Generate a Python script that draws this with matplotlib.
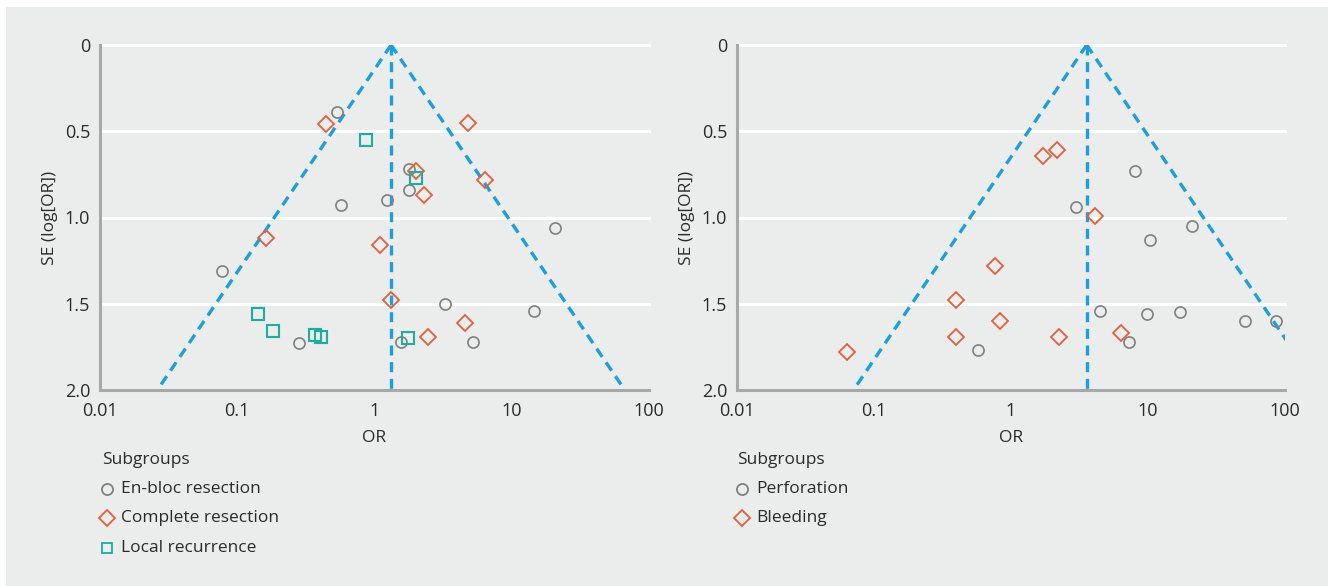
import numpy as np
import matplotlib
matplotlib.use('Agg')
import matplotlib.pyplot as plt
from matplotlib.lines import Line2D
from matplotlib.patches import Rectangle

# left panel: en-bloc / complete resection / local recurrence
enbloc_or = [0.53, 1.77, 1.77, 0.57, 1.24, 20.5, 0.078, 3.27, 14.6, 0.28, 1.56, 5.2]
enbloc_se = [0.39, 0.72, 0.84, 0.93, 0.90, 1.06, 1.31, 1.50, 1.54, 1.73, 1.72, 1.72]
complete_or = [0.44, 4.84, 2.0, 6.38, 2.29, 0.162, 1.09, 1.32, 4.6, 2.45]
complete_se = [0.46, 0.45, 0.73, 0.78, 0.87, 1.12, 1.16, 1.48, 1.61, 1.69]
recur_or = [0.865, 2.02, 0.142, 0.182, 0.366, 0.41, 1.74]
recur_se = [0.55, 0.77, 1.56, 1.66, 1.68, 1.69, 1.70]
pooled_left = 1.32

# right panel: perforation / bleeding
perf_or = [8.07, 2.96, 20.8, 10.4, 4.44, 9.9, 17.2, 51.2, 86.5, 7.3, 0.574]
perf_se = [0.73, 0.94, 1.05, 1.13, 1.54, 1.56, 1.55, 1.60, 1.60, 1.72, 1.77]
bleed_or = [2.17, 1.72, 4.1, 0.769, 0.396, 0.834, 0.399, 2.23, 6.4, 0.0638]
bleed_se = [0.61, 0.645, 0.99, 1.28, 1.48, 1.60, 1.695, 1.695, 1.67, 1.78]
pooled_right = 3.57

xticks = [0.01, 0.1, 1, 10, 100]
xticklabels = ['0.01', '0.1', '1', '10', '100']
yticks = [0, 0.5, 1.0, 1.5, 2.0]
yticklabels = ['0', '0.5', '1.0', '1.5', '2.0']

bg = '#ebecec'
grey = '#808080'
orange = '#e2603a'
teal = '#1aaf9f'
blue = '#1a9fe0'
spine = '#a8a8a8'
txt = '#2a2a2a'

plt.rcParams['font.family'] = ['Open Sans', 'DejaVu Sans']
plt.rcParams['font.size'] = 12

fig = plt.figure(figsize=(13.28, 5.86), dpi=100, facecolor='white')
fig.patches.append(Rectangle((6 / 1328, 0), 1 - 6 / 1328, 1 - 7 / 586,
                             transform=fig.transFigure, facecolor=bg,
                             edgecolor='none', zorder=-10))

ax1 = fig.add_axes([100 / 1328, 1 - 390 / 586, 549 / 1328, 345 / 586])
ax2 = fig.add_axes([737 / 1328, 1 - 390 / 586, 548 / 1328, 345 / 586])


def setup(ax, pooled):
    ax.set_facecolor(bg)
    ax.set_xscale('log')
    ax.set_xlim(0.01, 100)
    ax.set_ylim(2.0, 0)
    for y in [0, 0.5, 1.0, 1.5]:
        ax.axhline(y, color='white', lw=2.2, zorder=1, clip_on=False)
    se = np.array([0, 2.0])
    k = 1.96
    ax.plot(pooled * np.exp(-k * se), se, ls=(0, (3, 2)), color=blue, lw=2.4, zorder=2)
    ax.plot(pooled * np.exp(k * se), se, ls=(0, (3, 2)), color=blue, lw=2.4, zorder=2)
    ax.plot([pooled, pooled], [0, 2.0], ls=(0, (3, 2)), color=blue, lw=2.4, zorder=2)
    for s in ['top', 'right']:
        ax.spines[s].set_visible(False)
    for s in ['left', 'bottom']:
        ax.spines[s].set_color(spine)
        ax.spines[s].set_linewidth(2.2)
    ax.set_xticks(xticks)
    ax.set_xticklabels(xticklabels)
    ax.minorticks_off()
    ax.set_yticks(yticks)
    ax.set_yticklabels(yticklabels)
    ax.tick_params(axis='x', length=0, pad=9, labelsize=13, colors=txt)
    ax.tick_params(axis='y', length=0, pad=7, labelsize=13, colors=txt)
    ax.set_xlabel('OR', fontsize=12.5, color=txt, labelpad=7)
    ax.set_ylabel('SE (log[OR])', fontsize=12.5, color=txt, labelpad=5)


setup(ax1, pooled_left)
setup(ax2, pooled_right)

ms = dict(mfc='none', ls='none', zorder=3, clip_on=False)
ax1.plot(enbloc_or, enbloc_se, 'o', mec=grey, ms=8, mew=1.2, **ms)
ax1.plot(complete_or, complete_se, 'D', mec=orange, ms=8.5, mew=1.3, **ms)
ax1.plot(recur_or, recur_se, 's', mec=teal, ms=8, mew=1.5, **ms)
ax2.plot(perf_or, perf_se, 'o', mec=grey, ms=8, mew=1.2, **ms)
ax2.plot(bleed_or, bleed_se, 'D', mec=orange, ms=8.5, mew=1.3, **ms)


def legend(x0, items):
    fig.text(x0 / 1328, 1 - 460 / 586, 'Subgroups', fontsize=12.5, color=txt, va='center')
    for i, (m, c, lab) in enumerate(items):
        y = 1 - (489 + 29.3 * i) / 586
        fig.add_artist(Line2D([(x0 + 5) / 1328], [y], marker=m, mfc='none', mec=c,
                              ms=8 if m != 's' else 7, mew=1.3, ls='none',
                              transform=fig.transFigure))
        fig.text((x0 + 19) / 1328, y, lab, fontsize=12.5, color=txt, va='center')


legend(102, [('o', grey, 'En-bloc resection'),
             ('D', orange, 'Complete resection'),
             ('s', teal, 'Local recurrence')])
legend(737, [('o', grey, 'Perforation'),
             ('D', orange, 'Bleeding')])

fig.savefig('out.png', dpi=100, facecolor='white')
